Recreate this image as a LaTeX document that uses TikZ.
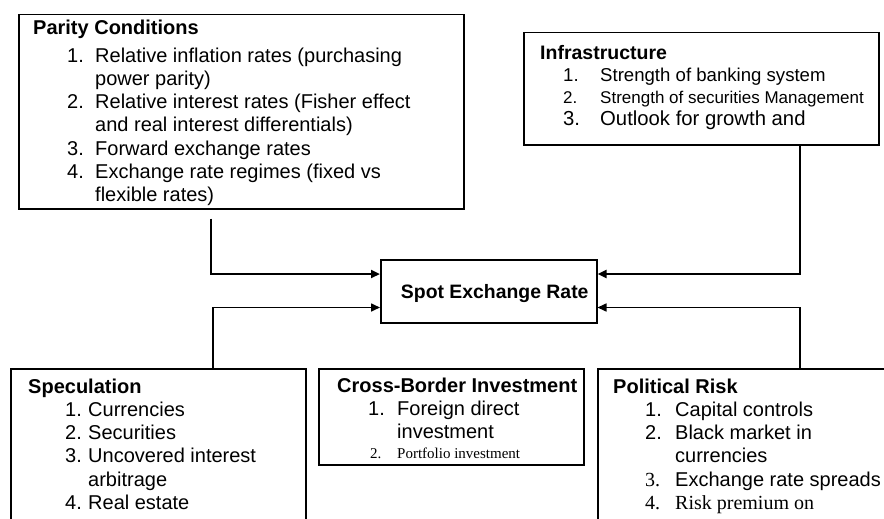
\documentclass[tikz,border=0pt]{standalone}
\usepackage{fontspec}
\setmainfont{Liberation Sans}
\newfontfamily\timesfont{Liberation Serif}
\usetikzlibrary{arrows.meta, positioning, calc}

\tikzset{
  box/.style={draw, line width=1.5pt, anchor=north west, inner sep=0pt},
  % base west = baseline of the last line
  txt/.style={anchor=base west, align=left, inner sep=0pt, font=\fontsize{20}{23.3}\selectfont},
  thickflow/.style={line width=2.4pt, -{Triangle[length=9pt,width=8pt]}},
  thinflow/.style={line width=1.6pt, -{Triangle[length=9pt,width=8pt]}},
}
\newcommand{\numit}[4]{\hspace*{#1}\makebox[#2][l]{#3}#4}

\begin{document}
\begin{tikzpicture}[x=1pt, y=-1pt]
\useasboundingbox (0,0) rectangle (884,519);
\clip (0,0) rectangle (884,519);

% boxes
\node[box, minimum width=445pt, minimum height=194pt] (parity) at (18,14) {};
\node[box, minimum width=355pt, minimum height=112pt] (infra) at (523,32) {};
\node[box, minimum width=216pt, minimum height=63pt] (spot) at (380,259) {};
\node[box, minimum width=295pt, minimum height=170pt] (spec) at (10,368) {};
\node[box, minimum width=265pt, minimum height=96pt] (cross) at (318,368) {};
\node[box, minimum width=300pt, minimum height=170pt] (pol) at (597,368) {};

% texts
\node[txt] (paritytxt) at ($(parity.north west)+(15,187.8)$) {%
  \textbf{Parity Conditions}\\[4.7pt]
  \numit{34pt}{28pt}{1.}{Relative inflation rates (purchasing}\\
  \numit{34pt}{28pt}{}{power parity)}\\
  \numit{34pt}{28pt}{2.}{Relative interest rates (Fisher effect}\\
  \numit{34pt}{28pt}{}{and real interest differentials)}\\
  \numit{34pt}{28pt}{3.}{Forward exchange rates}\\
  \numit{34pt}{28pt}{4.}{Exchange rate regimes (fixed vs}\\
  \numit{34pt}{28pt}{}{flexible rates)}};

\node[txt, font=\fontsize{20}{22.3}\selectfont] (infratxt) at ($(infra.north west)+(17,93.9)$) {%
  {\fontsize{19.5}{22.3}\selectfont\textbf{Infrastructure}}\\
  {\fontsize{18.6}{22.3}\selectfont\numit{23pt}{37pt}{1.}{Strength of banking system}}\\
  {\fontsize{17}{22.3}\selectfont\numit{23pt}{37pt}{2.}{Strength of securities Management}}\\
  {\fontsize{20.3}{22.3}\selectfont\numit{23pt}{37pt}{3.}{Outlook for growth and}}};

\node[font=\bfseries\fontsize{19.4}{23}\selectfont] (spottxt) at ($(spot.center)+(6,2)$) {Spot Exchange Rate};

\node[txt] (spectxt) at ($(spec.north west)+(18,141.5)$) {%
  \textbf{Speculation}\\
  \numit{37pt}{23pt}{1.}{Currencies}\\
  \numit{37pt}{23pt}{2.}{Securities}\\
  \numit{37pt}{23pt}{3.}{Uncovered interest}\\
  \numit{37pt}{23pt}{}{arbitrage}\\
  \numit{37pt}{23pt}{4.}{Real estate}};

\node[txt] (crosstxt) at ($(cross.north west)+(19,90.9)$) {%
  \textbf{Cross-Border Investment}\\
  \numit{31pt}{29pt}{1.}{Foreign direct}\\
  \numit{31pt}{29pt}{}{investment}\\[-3pt]
  {\timesfont\fontsize{15}{17}\selectfont\numit{33pt}{27pt}{2.}{Portfolio investment}}};

\node[txt] (poltxt) at ($(pol.north west)+(16,141.5)$) {%
  \textbf{Political Risk}\\
  \numit{32pt}{30pt}{1.}{Capital controls}\\
  \numit{32pt}{30pt}{2.}{Black market in}\\
  \numit{32pt}{30pt}{}{currencies}\\
  \numit{32pt}{30pt}{{\timesfont 3.}}{Exchange rate spreads}\\
  {\timesfont\numit{32pt}{30pt}{4.}{Risk premium on}}};

% connectors
\draw[thickflow, shorten <=9pt] ($(parity.south west)+(193,0)$) |- ($(spot.north west)+(0,15)$);
\draw[thickflow] ($(infra.south west)+(277,0)$) |- ($(spot.north east)+(0,15)$);
\draw[thinflow] ($(spec.north west)+(203,0)$) |- ($(spot.south west)+(0,-16)$);
\draw[thinflow] ($(pol.north west)+(203,0)$) |- ($(spot.south east)+(0,-16)$);
\end{tikzpicture}
\end{document}
